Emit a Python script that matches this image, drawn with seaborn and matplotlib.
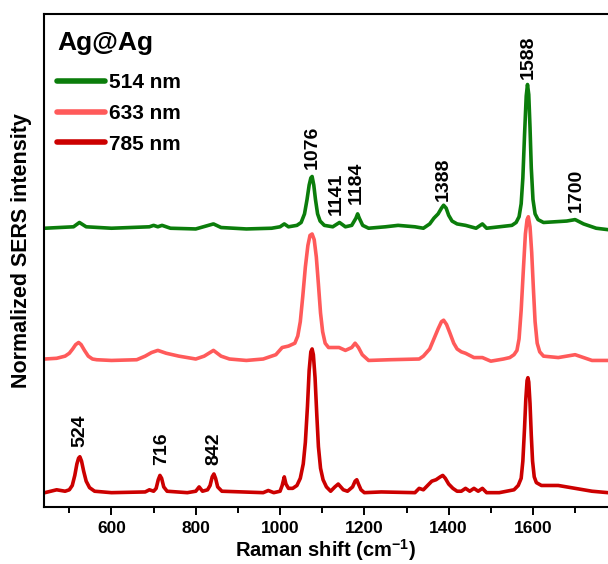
import numpy as np
import pandas as pd
import matplotlib
matplotlib.use("Agg")
import matplotlib.pyplot as plt
import seaborn as sns

# Espectros normalizados
x_785 = [442, 470, 490, 500, 507, 513, 518, 522, 525, 529, 534, 540, 548, 560, 600, 680, 690,
         700, 706, 711, 715, 719, 724, 732, 780, 800, 808, 816, 828, 834, 839, 843, 847, 852,
         862, 960, 972, 985, 1000, 1005, 1010, 1014, 1020, 1030, 1040, 1048, 1055, 1060, 1065,
         1069, 1073, 1076, 1079, 1083, 1087, 1091, 1096, 1102, 1110, 1120, 1130, 1138, 1150,
         1160, 1172, 1178, 1182, 1186, 1192, 1200, 1240, 1320, 1330, 1340, 1350, 1360, 1370,
         1380, 1386, 1392, 1400, 1410, 1420, 1430, 1440, 1450, 1460, 1470, 1480, 1490, 1520,
         1555, 1565, 1572, 1576, 1580, 1583, 1586, 1588, 1590, 1593, 1596, 1599, 1603, 1608,
         1620, 1660, 1700, 1740, 1778]
y_785 = [0.0, 0.02, 0.01, 0.02, 0.05, 0.12, 0.2, 0.24, 0.25, 0.22, 0.15, 0.08, 0.035, 0.01,
         0.0, 0.005, 0.02, 0.01, 0.03, 0.09, 0.12, 0.1, 0.04, 0.01, 0.0, 0.01, 0.04, 0.01, 0.02,
         0.05, 0.11, 0.13, 0.1, 0.04, 0.01, 0.0, 0.015, 0.0, 0.01, 0.05, 0.11, 0.06, 0.03,
         0.03, 0.05, 0.1, 0.2, 0.35, 0.6, 0.85, 0.98, 1.0, 0.96, 0.8, 0.55, 0.32, 0.17, 0.09,
         0.04, 0.01, 0.04, 0.06, 0.02, 0.01, 0.04, 0.08, 0.09, 0.06, 0.02, 0.0, 0.005, 0.0,
         0.03, 0.02, 0.05, 0.08, 0.09, 0.11, 0.12, 0.1, 0.06, 0.03, 0.01, 0.01, 0.03, 0.01,
         0.03, 0.01, 0.03, 0.0, 0.0, 0.02, 0.05, 0.1, 0.22, 0.45, 0.65, 0.78, 0.8, 0.77, 0.62,
         0.4, 0.22, 0.11, 0.07, 0.05, 0.05, 0.03, 0.01, 0.0]

x_633 = [442, 470, 490, 500, 508, 515, 522, 528, 536, 545, 555, 565, 600, 660, 680, 695, 710,
         730, 760, 800, 820, 842, 860, 880, 920, 960, 990, 1005, 1020, 1035, 1042, 1048, 1054,
         1060, 1066, 1071, 1076, 1081, 1086, 1091, 1096, 1101, 1107, 1115, 1125, 1140, 1155,
         1170, 1178, 1186, 1195, 1210, 1260, 1330, 1340, 1355, 1365, 1375, 1383, 1388, 1395,
         1403, 1412, 1420, 1430, 1440, 1460, 1480, 1500, 1530, 1545, 1555, 1562, 1567, 1572,
         1577, 1582, 1586, 1589, 1593, 1597, 1601, 1605, 1610, 1616, 1625, 1660, 1700, 1740,
         1778]
y_633 = [0.01, 0.015, 0.03, 0.05, 0.08, 0.11, 0.125, 0.11, 0.07, 0.03, 0.01, 0.005, 0.0, 0.005,
         0.03, 0.055, 0.07, 0.05, 0.03, 0.01, 0.03, 0.07, 0.03, 0.01, 0.0, 0.01, 0.04, 0.09,
         0.1, 0.12, 0.17, 0.27, 0.45, 0.65, 0.8, 0.87, 0.88, 0.84, 0.72, 0.53, 0.33, 0.2, 0.12,
         0.09, 0.09, 0.09, 0.07, 0.09, 0.12, 0.09, 0.04, 0.0, 0.005, 0.01, 0.03, 0.08, 0.15,
         0.22, 0.27, 0.28, 0.25, 0.19, 0.12, 0.08, 0.06, 0.05, 0.02, 0.02, -0.005, 0.01, 0.02,
         0.04, 0.07, 0.15, 0.35, 0.62, 0.88, 0.98, 1.0, 0.93, 0.75, 0.5, 0.27, 0.12, 0.06, 0.03,
         0.02, 0.04, 0.0, 0.0]

x_514 = [442, 510, 524, 540, 600, 690, 700, 710, 720, 740, 800, 842, 860, 920, 980, 1000, 1010,
         1020, 1040, 1050, 1058, 1064, 1069, 1073, 1076, 1080, 1084, 1089, 1095, 1105, 1125,
         1141, 1155, 1170, 1180, 1184, 1188, 1196, 1210, 1250, 1280, 1320, 1340, 1355, 1365,
         1375, 1383, 1388, 1394, 1400, 1408, 1420, 1440, 1465, 1480, 1490, 1520, 1550, 1560,
         1567, 1572, 1576, 1580, 1584, 1587, 1590, 1593, 1596, 1600, 1605, 1612, 1625, 1680,
         1700, 1720, 1750, 1778]
y_514 = [0.0, 0.01, 0.04, 0.01, 0.0, 0.01, 0.02, 0.01, 0.02, 0.0, -0.005, 0.03, 0.005, -0.005,
         0.0, 0.01, 0.03, 0.01, 0.02, 0.04, 0.1, 0.2, 0.3, 0.35, 0.36, 0.3, 0.2, 0.1, 0.05,
         0.02, 0.01, 0.04, 0.01, 0.02, 0.07, 0.1, 0.07, 0.02, 0.0, 0.01, 0.02, 0.01, 0.0, 0.03,
         0.07, 0.1, 0.14, 0.16, 0.14, 0.09, 0.05, 0.03, 0.02, 0.0, 0.03, 0.0, 0.01, 0.02, 0.04,
         0.08, 0.17, 0.35, 0.65, 0.92, 1.0, 0.93, 0.7, 0.42, 0.2, 0.1, 0.06, 0.04, 0.05, 0.06,
         0.03, 0.0, -0.01]

etiquetas = ["514 nm", "633 nm", "785 nm"]
colores = ["#0b7d0b", "#ff5a5a", "#cc0000"]
desplaz = [1.84, 0.92, 0.0]

# Picos marcados
pico_txt = ["524", "716", "842", "1076", "1141", "1184", "1388", "1588", "1700"]
pico_x = [524, 720, 843, 1076, 1133, 1181, 1386, 1588, 1702]
pico_y = [0.32, 0.19, 0.19, 2.25, 1.93, 2.01, 2.03, 2.88, 1.95]

sns.set_style("ticks")
plt.rcParams["font.family"] = ["Liberation Sans", "DejaVu Sans"]
plt.rcParams["mathtext.fontset"] = "custom"
plt.rcParams["mathtext.bf"] = "Liberation Sans:bold"
plt.rcParams["mathtext.rm"] = "Liberation Sans:bold"
for k in ["text.color", "axes.labelcolor", "xtick.color", "ytick.color"]:
    plt.rcParams[k] = "black"

fig = plt.figure(figsize=(6.08, 5.64), dpi=100)
ax = fig.add_axes([0.0724, 0.101, 0.9276, 0.874])

series = [(x_514, y_514), (x_633, y_633), (x_785, y_785)]
for (xs, ys), lab, col, off in zip(series, etiquetas, colores, desplaz):
    df = pd.DataFrame({"x": xs, "y": np.array(ys) + off})
    sns.lineplot(data=df, x="x", y="y", ax=ax, color=col, lw=2.6, sort=False,
                 estimator=None, label=lab)

for t, px, py in zip(pico_txt, pico_x, pico_y):
    ax.text(px, py, t, rotation=90, ha="center", va="bottom", fontsize=14,
            fontweight="bold")

ax.set_xlim(440, 1778)
ax.set_ylim(-0.1, 3.33)
ax.set_xticks([600, 800, 1000, 1200, 1400, 1600])
ax.set_xticks(np.arange(500, 1800, 100), minor=True)
ax.set_yticks([])
ax.tick_params(axis="x", which="major", length=6, width=1.4, labelsize=12.5, pad=4)
ax.tick_params(axis="x", which="minor", length=4, width=1.4)
for lbl in ax.get_xticklabels():
    lbl.set_fontweight("bold")
for s in ["left", "top", "bottom"]:
    ax.spines[s].set_linewidth(1.5)
    ax.spines[s].set_color("black")
ax.spines["right"].set_visible(False)

ax.set_xlabel("Raman shift (cm$^{-1}$)", fontsize=14.5, fontweight="bold", labelpad=1)
ax.set_ylabel("Normalized SERS intensity", fontsize=15.5, fontweight="bold")
ax.yaxis.set_label_coords(-0.022, 0.52)

ax.text(0.023, 0.927, "Ag@Ag", transform=ax.transAxes, fontsize=19, fontweight="bold",
        ha="left", va="baseline")
leg = ax.legend(loc="upper left", bbox_to_anchor=(0.023, 0.88), frameon=False,
                handlelength=2.3, handletextpad=0.2, labelspacing=0.56, borderaxespad=0,
                borderpad=0, prop={"weight": "bold", "size": 15})
for h in leg.get_lines():
    h.set_linewidth(4)

plt.savefig("out.png", dpi=100)
